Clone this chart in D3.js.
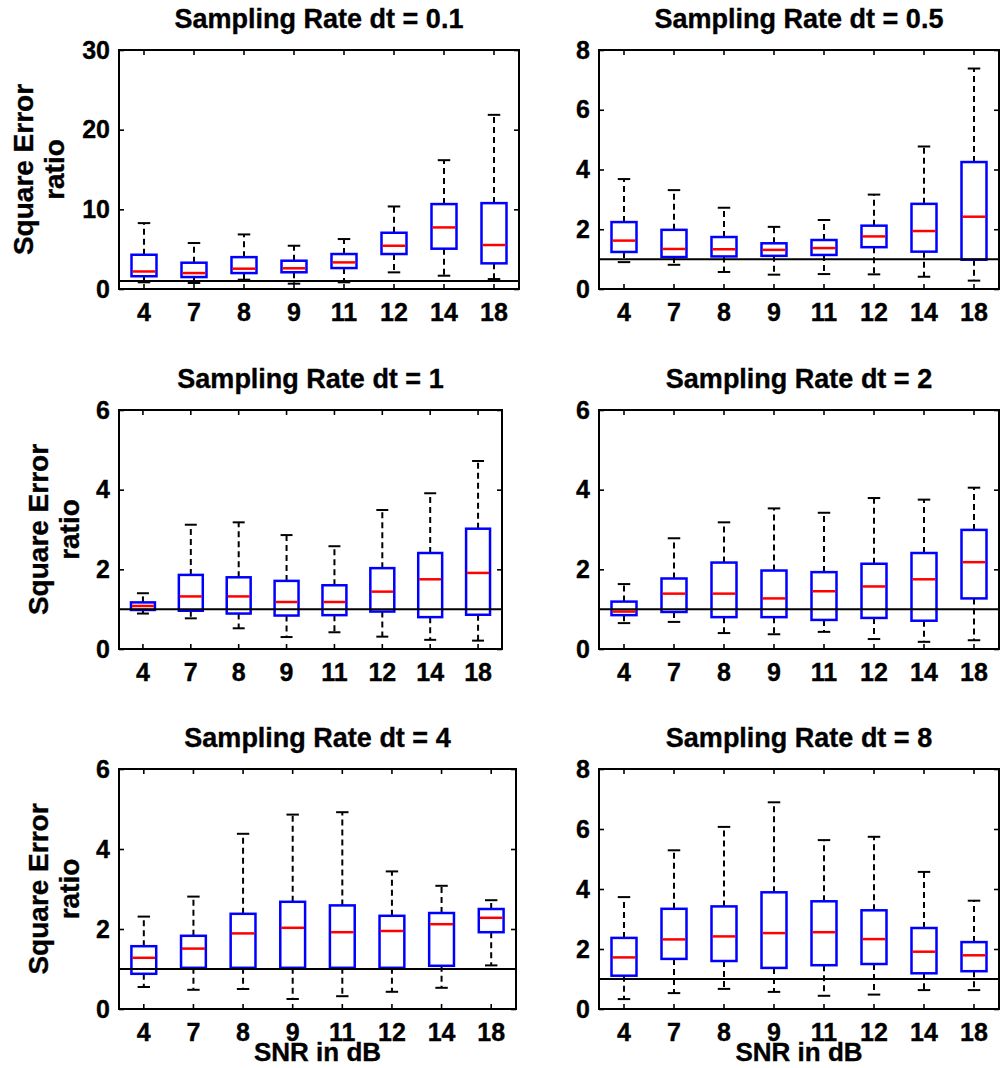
<!DOCTYPE html>
<html>
<head>
<meta charset="utf-8">
<script src="https://cdn.jsdelivr.net/npm/d3@7"></script>
<style>
  html, body { margin: 0; padding: 0; background: #fff; }
  svg { display: block; }
  text { font-family: "Liberation Sans", Arial, Helvetica, sans-serif; font-weight: bold; fill: #000; stroke: #000; stroke-width: 0.35px; }
</style>
</head>
<body>
<svg id="chart" width="1006" height="1068"></svg>
<script>
// ---------- data ----------
const categories = ["4", "7", "8", "9", "11", "12", "14", "18"];
const panelTitles = ["Sampling Rate dt = 0.1", "Sampling Rate dt = 0.5", "Sampling Rate dt = 1",
                     "Sampling Rate dt = 2", "Sampling Rate dt = 4", "Sampling Rate dt = 8"];
const yMax = [30, 8, 6, 6, 6, 8];
const yTicks01 = [0, 10, 20, 30];
const yTicks8 = [0, 2, 4, 6, 8];
const yTicks6 = [0, 2, 4, 6];
const yLabelLines = ["Square Error", "ratio"];
const xLabelText = "SNR in dB";
const referenceValue = 1;

// each row: [lower whisker, Q1, median, Q3, upper whisker]
const dt0_1 = [[0.84, 1.6, 2.2, 4.3, 8.27], [0.75, 1.5, 2.0, 3.3, 5.77], [1.17, 2.0, 2.55, 4.0, 6.85],
               [0.67, 2.1, 2.6, 3.55, 5.43], [0.84, 2.63, 3.34, 4.39, 6.27], [2.09, 4.39, 5.43, 7.06, 10.36],
               [1.67, 5.06, 7.73, 10.66, 16.17], [1.25, 3.22, 5.52, 10.78, 21.86]];
const dt0_5 = [[0.90, 1.24, 1.62, 2.24, 3.68], [0.81, 1.07, 1.34, 1.98, 3.31], [0.57, 1.09, 1.33, 1.74, 2.72],
               [0.48, 1.11, 1.31, 1.53, 2.08], [0.50, 1.14, 1.37, 1.64, 2.31], [0.49, 1.40, 1.76, 2.12, 3.16],
               [0.41, 1.25, 1.94, 2.85, 4.77], [0.28, 0.98, 2.42, 4.25, 7.38]];
const dt1 = [[0.89, 0.98, 1.08, 1.17, 1.40], [0.77, 0.96, 1.32, 1.86, 3.12], [0.52, 0.89, 1.32, 1.80, 3.18],
             [0.30, 0.84, 1.18, 1.71, 2.86], [0.42, 0.85, 1.18, 1.60, 2.58], [0.31, 0.94, 1.44, 2.03, 3.49],
             [0.23, 0.80, 1.75, 2.41, 3.91], [0.21, 0.86, 1.91, 3.02, 4.72]];
const dt2 = [[0.65, 0.85, 0.94, 1.19, 1.63], [0.68, 0.93, 1.39, 1.77, 2.78], [0.40, 0.80, 1.39, 2.17, 3.18],
             [0.37, 0.80, 1.27, 1.97, 3.53], [0.43, 0.73, 1.45, 1.93, 3.42], [0.25, 0.78, 1.57, 2.14, 3.79],
             [0.18, 0.71, 1.75, 2.41, 3.75], [0.22, 1.27, 2.18, 2.99, 4.05]];
const dt4 = [[0.55, 0.88, 1.28, 1.57, 2.31], [0.48, 1.03, 1.51, 1.83, 2.81], [0.50, 1.03, 1.89, 2.38, 4.38],
             [0.25, 1.03, 2.03, 2.68, 4.86], [0.32, 1.03, 1.92, 2.59, 4.92], [0.43, 1.03, 1.95, 2.33, 3.44],
             [0.53, 1.08, 2.12, 2.40, 3.08], [1.09, 1.92, 2.28, 2.50, 2.72]];
const dt8 = [[0.33, 1.11, 1.72, 2.37, 3.73], [0.53, 1.67, 2.32, 3.34, 5.29], [0.67, 1.60, 2.42, 3.42, 6.07],
             [0.57, 1.37, 2.53, 3.89, 6.89], [0.44, 1.46, 2.56, 3.59, 5.63], [0.48, 1.50, 2.33, 3.29, 5.74],
             [0.63, 1.19, 1.91, 2.70, 4.57], [0.63, 1.26, 1.79, 2.23, 3.61]];

// ---------- layout ----------
const panels = [
  { data: dt0_1, ticks: yTicks01, box: [119, 519, 50, 289], col: 0, row: 0 },
  { data: dt0_5, ticks: yTicks8,  box: [599, 999, 50, 289], col: 1, row: 0 },
  { data: dt1,   ticks: yTicks6,  box: [119, 502, 410, 649], col: 0, row: 1 },
  { data: dt2,   ticks: yTicks6,  box: [599, 999, 410, 649], col: 1, row: 1 },
  { data: dt4,   ticks: yTicks6,  box: [119, 516, 769, 1009], col: 0, row: 2 },
  { data: dt8,   ticks: yTicks8,  box: [599, 999, 769, 1009], col: 1, row: 2 }
];

const svg = d3.select("#chart");
svg.append("rect").attr("width", 1006).attr("height", 1068).attr("fill", "#fff");

panels.forEach((p, i) => {
  const [L, R, T, B] = p.box;
  const x = d3.scaleBand().domain(categories).range([L, R]).paddingInner(0).paddingOuter(0);
  const y = d3.scaleLinear().domain([0, yMax[i]]).range([B, T]);
  const bw = x.bandwidth();
  const boxW = bw * 0.5;
  const capW = bw * 0.25;
  const g = svg.append("g");

  // axes (inward ticks on all four sides)
  const ax = g.append("g").attr("transform", `translate(0,${B})`)
    .call(d3.axisBottom(x).tickSize(-5).tickPadding(14));
  const axT = g.append("g").attr("transform", `translate(0,${T})`)
    .call(d3.axisTop(x).tickSize(-5).tickFormat(""));
  const ayL = g.append("g").attr("transform", `translate(${L},0)`)
    .call(d3.axisLeft(y).tickValues(p.ticks).tickFormat(d3.format("d")).tickSize(-5).tickPadding(9));
  const ayR = g.append("g").attr("transform", `translate(${R},0)`)
    .call(d3.axisRight(y).tickValues(p.ticks).tickSize(-5).tickFormat(""));
  [ax, axT, ayL, ayR].forEach(a => {
    a.select(".domain").remove();
    a.selectAll(".tick line").attr("stroke", "#000").attr("stroke-width", 1.6);
    a.selectAll(".tick text").attr("font-size", "25px")
      .attr("font-family", '"Liberation Sans", Arial, sans-serif').attr("font-weight", "bold")
      .attr("fill", "#000").attr("stroke", "#000").attr("stroke-width", 0.35);
  });

  // boxes
  const items = g.append("g").selectAll("g").data(p.data.map((d, k) => ({ cat: categories[k], v: d })))
    .join("g");
  const cx = d => x(d.cat) + bw / 2;
  // whiskers
  items.append("line").attr("x1", cx).attr("x2", cx)
    .attr("y1", d => y(d.v[3])).attr("y2", d => y(d.v[4]))
    .attr("stroke", "#000").attr("stroke-width", 2).attr("stroke-dasharray", "6,4");
  items.append("line").attr("x1", cx).attr("x2", cx)
    .attr("y1", d => y(d.v[1])).attr("y2", d => y(d.v[0]))
    .attr("stroke", "#000").attr("stroke-width", 2).attr("stroke-dasharray", "6,4");
  // caps
  [0, 4].forEach(k => {
    items.append("line").attr("x1", d => cx(d) - capW / 2).attr("x2", d => cx(d) + capW / 2)
      .attr("y1", d => y(d.v[k])).attr("y2", d => y(d.v[k]))
      .attr("stroke", "#000").attr("stroke-width", 2);
  });
  // box
  items.append("rect").attr("x", d => cx(d) - boxW / 2).attr("width", boxW)
    .attr("y", d => y(d.v[3])).attr("height", d => y(d.v[1]) - y(d.v[3]))
    .attr("fill", "none").attr("stroke", "#0000ff").attr("stroke-width", 2.5);
  // median
  items.append("line").attr("x1", d => cx(d) - boxW / 2 + 1).attr("x2", d => cx(d) + boxW / 2 - 1)
    .attr("y1", d => y(d.v[2])).attr("y2", d => y(d.v[2]))
    .attr("stroke", "#ff0000").attr("stroke-width", 2.5);

  // reference line at 1
  g.append("line").attr("x1", L).attr("x2", R)
    .attr("y1", y(referenceValue)).attr("y2", y(referenceValue))
    .attr("stroke", "#000").attr("stroke-width", 2);

  // frame
  g.append("rect").attr("x", L).attr("y", T).attr("width", R - L).attr("height", B - T)
    .attr("fill", "none").attr("stroke", "#000").attr("stroke-width", 2);

  // title
  g.append("text").attr("x", (L + R) / 2).attr("y", T - 22).attr("text-anchor", "middle")
    .attr("font-size", "27px").text(panelTitles[i]);

  // y label (left column)
  if (p.col === 0) {
    const xOff = p.row === 0 ? 33 : 48;
    const cy = (T + B) / 2;
    yLabelLines.forEach((line, j) => {
      g.append("text").attr("transform", `translate(${xOff + j * 31},${cy}) rotate(-90)`)
        .attr("text-anchor", "middle").attr("font-size", "28px").text(line);
    });
  }
  // x label (bottom row)
  if (p.row === 2) {
    g.append("text").attr("x", (L + R) / 2).attr("y", B + 52).attr("text-anchor", "middle")
      .attr("font-size", "26px").text(xLabelText);
  }
});
</script>
</body>
</html>
